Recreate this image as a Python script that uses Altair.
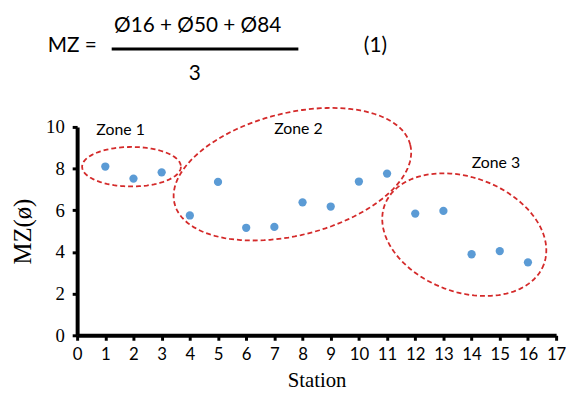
import altair as alt
import numpy as np
import pandas as pd

# ---- data ----
stations = [1, 2, 3, 4, 5, 6, 7, 8, 9, 10, 11, 12, 13, 14, 15, 16]
mz_values = [8.10, 7.52, 7.82, 5.75, 7.36, 5.16, 5.20, 6.38, 6.18, 7.38, 7.76, 5.84, 5.97, 3.89, 4.04, 3.50]
x_ticks = list(range(0, 18))
y_ticks = [0, 2, 4, 6, 8, 10]

# zone ellipses: centre (data units), semi-axes (px), rotation (deg, screen)
zone_names = ["Zone 1", "Zone 2", "Zone 3"]
zone_cx = [1.93, 7.64, 13.74]
zone_cy = [8.09, 7.73, 4.83]
zone_a = [50, 123, 86]
zone_b = [20, 62, 58]
zone_rot = [0, -14, 20.5]

W, H = 485, 211
X_MAX, Y_MAX = 17, 10
px_x = W / X_MAX
px_y = H / Y_MAX

pts = pd.DataFrame({"Station": stations, "MZ": mz_values})

rows = []
t = np.linspace(0, 2 * np.pi, 121)
for name, cx, cy, a, b, r in zip(zone_names, zone_cx, zone_cy, zone_a, zone_b, zone_rot):
    th = np.deg2rad(r)
    dx = a * np.cos(th) * np.cos(t) - b * np.sin(th) * np.sin(t)
    dy = a * np.sin(th) * np.cos(t) + b * np.cos(th) * np.sin(t)
    for i, (u, v) in enumerate(zip(dx, dy)):
        rows.append({"zone": name, "i": i, "Station": cx + u / px_x, "MZ": cy - v / px_y})
ell = pd.DataFrame(rows)

xs = alt.Scale(domain=[0, X_MAX], nice=False, zero=True)
ys = alt.Scale(domain=[0, Y_MAX], nice=False, zero=True)

SANS = "Lato"
SERIF = "Liberation Serif"

x_axis = alt.Axis(values=x_ticks, title="Station", labelFont=SANS, labelFontSize=17,
                  titleFont=SERIF, titleFontSize=21, titleFontWeight="normal",
                  labelPadding=6, titlePadding=8, labelFlush=False, labelOverlap=False)
y_axis = alt.Axis(values=y_ticks, title="MZ(ø)", labelFont=SERIF, labelFontSize=19,
                  titleFont=SERIF, titleFontSize=25, titleFontWeight="normal",
                  labelPadding=8, titlePadding=10, labelFlush=False, labelOverlap=False)

points = alt.Chart(pts).mark_point(filled=True, size=70, color="#5B9BD5", opacity=1).encode(
    x=alt.X("Station:Q", scale=xs, axis=x_axis),
    y=alt.Y("MZ:Q", scale=ys, axis=y_axis),
)

ellipses = alt.Chart(ell).mark_line(color="#D42A2A", strokeWidth=1.8, strokeDash=[5, 3]).encode(
    x=alt.X("Station:Q", scale=xs, axis=x_axis),
    y=alt.Y("MZ:Q", scale=ys, axis=y_axis),
    detail="zone:N",
    order="i:Q",
)

one = pd.DataFrame({"a": [0]})


def txt(s, x, y, size=16, font=SANS, align="center"):
    return alt.Chart(one).mark_text(font=font, fontSize=size, align=align, baseline="middle",
                                    color="black").encode(
        x=alt.value(x), y=alt.value(y), text=alt.value(s))


labels = [
    txt("Zone 1", 44, 3),
    txt("Zone 2", 224, 2),
    txt("Zone 3", 424, 37),
    txt("MZ =", -5, -82, size=21),
    txt("Ø16 + Ø50 + Ø84", 122, -102, size=21),
    txt("3", 119, -54, size=21),
    txt("(1)", 302, -82, size=21),
]

frac = alt.Chart(one).mark_rule(color="black", strokeWidth=3).encode(
    x=alt.value(35), x2=alt.value(224), y=alt.value(-79))

chart = alt.layer(points, ellipses, frac, *labels).properties(
    width=W, height=H,
    autosize=alt.AutoSizeParams(type="none"),
    padding={"left": 70, "top": 118, "right": 10, "bottom": 56},
).configure_view(stroke=None).configure_axis(
    grid=False, domainColor="black", domainWidth=4, tickColor="black", tickWidth=3,
    tickSize=5, labelColor="black", titleColor="black",
)

chart.save("out.html", embed_options={"renderer": "svg", "actions": False})
